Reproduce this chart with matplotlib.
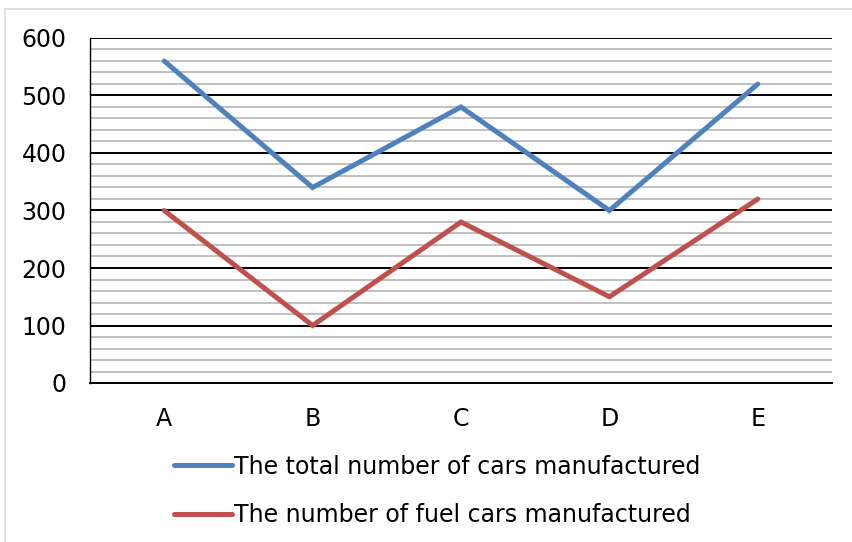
import matplotlib.pyplot as plt
from matplotlib.lines import Line2D
from matplotlib.ticker import MultipleLocator

categories = ["A", "B", "C", "D", "E"]
total_cars = [560, 340, 480, 300, 520]
fuel_cars = [300, 100, 280, 150, 320]

BLUE = "#4F81BD"
RED = "#C0504D"

plt.rcParams["font.family"] = ["DejaVu Sans"]

fig = plt.figure(figsize=(8.52, 5.42), dpi=100)
ax = fig.add_axes([90 / 852, 1 - 383 / 542, 742 / 852, 345 / 542])

x = range(len(categories))
ax.plot(x, total_cars, color=BLUE, lw=3.6, solid_capstyle="round",
        solid_joinstyle="miter", label="The total number of cars manufactured", zorder=3)
ax.plot(x, fuel_cars, color=RED, lw=3.6, solid_capstyle="round",
        solid_joinstyle="miter", label="The number of fuel cars manufactured", zorder=3)

ax.set_xlim(-0.5, len(categories) - 0.5)
ax.set_ylim(0, 600)
ax.set_xticks(list(x))
ax.set_xticklabels(categories)
ax.yaxis.set_major_locator(MultipleLocator(100))
ax.yaxis.set_minor_locator(MultipleLocator(20))

ax.grid(which="major", axis="y", color="black", lw=1.4)
ax.grid(which="minor", axis="y", color="#c0c0c0", lw=1.4)
ax.set_axisbelow(True)

for side in ("top", "right"):
    ax.spines[side].set_visible(False)
ax.spines["left"].set_linewidth(1.0)
ax.spines["bottom"].set_linewidth(1.4)

ax.tick_params(axis="both", which="both", length=0, labelsize=17)
ax.tick_params(axis="y", pad=17)
ax.tick_params(axis="x", pad=17)

fig.legend(loc="center", bbox_to_anchor=(437 / 852, 1 - 491 / 542), frameon=False,
           fontsize=17, handlelength=2.45, handletextpad=0.1, labelspacing=1.05,
           borderpad=0)

# light outer frame
fig.add_artist(Line2D([4.5 / 852, 4.5 / 852], [0, 1 - 8.5 / 542],
                      transform=fig.transFigure, color="#d9d9d9", lw=1.2))
fig.add_artist(Line2D([4.5 / 852, 1], [1 - 8.5 / 542, 1 - 8.5 / 542],
                      transform=fig.transFigure, color="#d9d9d9", lw=1.2))

fig.savefig("out.png", dpi=100)
